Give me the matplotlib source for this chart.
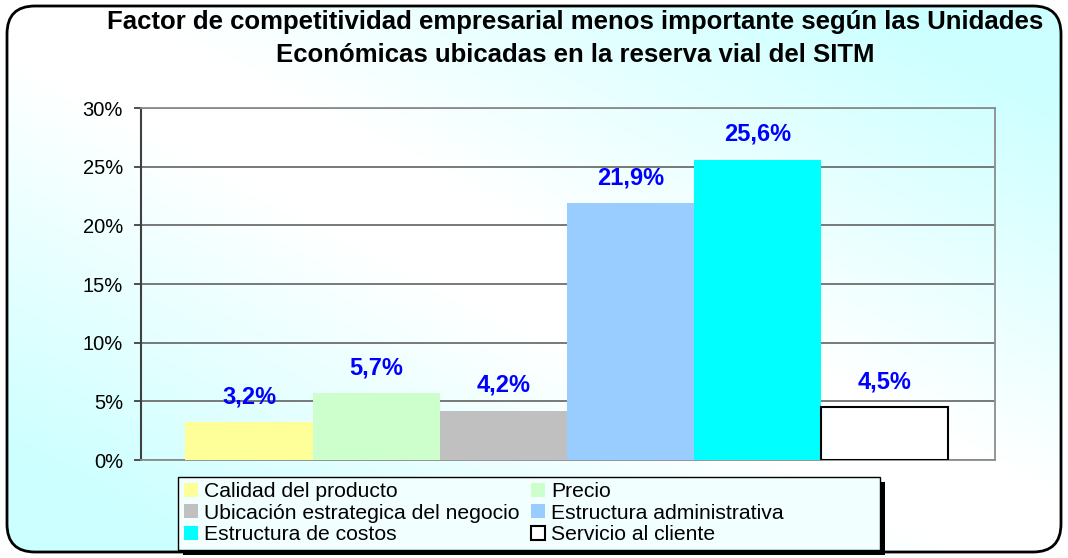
import numpy as np
import matplotlib
matplotlib.use("Agg")
import matplotlib.pyplot as plt
from matplotlib.patches import FancyBboxPatch, Rectangle
from matplotlib.ticker import FuncFormatter

plt.rcParams['font.family'] = ['Liberation Sans', 'DejaVu Sans']

categorias = ["Calidad del producto", "Precio", "Ubicación estrategica del negocio",
              "Estructura administrativa", "Estructura de costos", "Servicio al cliente"]
valores = [3.2, 5.7, 4.2, 21.9, 25.6, 4.5]
etiquetas = ["3,2%", "5,7%", "4,2%", "21,9%", "25,6%", "4,5%"]
colores = ["#ffff99", "#ccffcc", "#c0c0c0", "#99ccff", "#00ffff", "#ffffff"]
bordes = ["none", "none", "none", "none", "none", "black"]
titulo1 = "Factor de competitividad empresarial menos importante según las Unidades"
titulo2 = "Económicas ubicadas en la reserva vial del SITM"

W, H = 1068, 558
fig = plt.figure(figsize=(W / 100, H / 100), dpi=100)

# fondo con degradado
bg = fig.add_axes([0, 0, 1, 1])
bg.set_xlim(0, W)
bg.set_ylim(H, 0)
bg.axis('off')
xx, yy = np.meshgrid(np.linspace(0, 1, 300), np.linspace(1, 0, 200))
t = np.clip((np.abs(xx + yy - 1) - 0.1) * 1.4, 0, 1)
c0 = np.array([1.0, 1.0, 1.0])
c1 = np.array([0.8, 1.0, 1.0])
img = c0 + (c1 - c0) * t[..., None]
im = bg.imshow(img, extent=[0, W, H, 0], aspect='auto')
marco = FancyBboxPatch((7, 6), W - 14, H - 12,
                       boxstyle="round,pad=0,rounding_size=28",
                       fc='none', ec='black', lw=2)
bg.add_patch(marco)
im.set_clip_path(marco)

# caja de la leyenda con sombra
bg.add_patch(Rectangle((183, 482), 702, 73, fc='black', ec='none', zorder=2))
bg.add_patch(Rectangle((178, 477), 702, 73, fc='#f2ffff', ec='black', lw=1, zorder=3))

bg.text(575, 22, titulo1, ha='center', va='center', fontsize=18.5, fontweight='bold')
bg.text(575, 55, titulo2, ha='center', va='center', fontsize=18.5, fontweight='bold')

ax = fig.add_axes([141 / W, 1 - 460 / H, 854 / W, 352 / H])
ax.patch.set_alpha(0)
x = np.arange(len(valores))
barras = ax.bar(x, valores, width=1.0, color=colores, edgecolor=bordes,
                linewidth=1.5, label=categorias, zorder=3)
for xi, v, lab in zip(x, valores, etiquetas):
    ax.annotate(lab, (xi, v), xytext=(0, 10), textcoords='offset points',
                ha='center', va='bottom', color='#0000ff', fontsize=17,
                fontweight='bold', zorder=4)

ax.set_xlim(-0.85, 5.87)
ax.set_ylim(0, 30)
ax.set_yticks(np.arange(0, 31, 5))
ax.yaxis.set_major_formatter(FuncFormatter(lambda v, p: f"{v:.0f}%"))
ax.tick_params(axis='y', labelsize=14.5, length=5, width=1.3, color='#404040', pad=8)
ax.set_xticks([])
ax.grid(axis='y', color='#6e6e6e', lw=1.3, zorder=1)
for s in ['top', 'right', 'bottom']:
    ax.spines[s].set_color('#8c8c8c')
    ax.spines[s].set_linewidth(1.3)
ax.spines['left'].set_color('#404040')
ax.spines['left'].set_linewidth(1.5)

orden = [0, 2, 4, 1, 3, 5]
h = [barras[i] for i in orden]
l = [categorias[i] for i in orden]
leg = fig.legend(h, l, ncol=2, loc='upper left',
                 bbox_to_anchor=(184 / W, 1 - 482 / H),
                 borderaxespad=0, borderpad=0, fontsize=15.2, handlelength=0.65,
                 handleheight=0.65, handletextpad=0.3, labelspacing=0.12,
                 columnspacing=0.55, frameon=False)

fig.savefig("out.png", dpi=100)
